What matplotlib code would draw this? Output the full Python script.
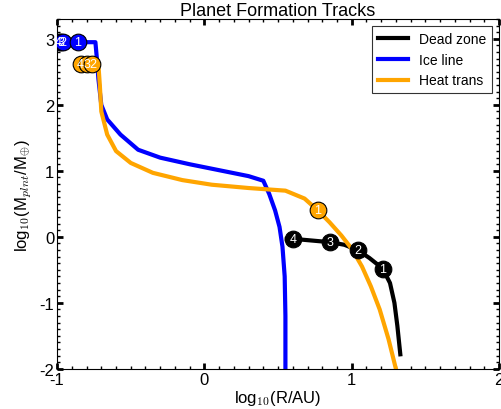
import matplotlib
matplotlib.use("Agg")
import matplotlib.pyplot as plt
from matplotlib.ticker import MultipleLocator

plt.rcParams['font.family'] = ['Liberation Sans', 'DejaVu Sans']
plt.rcParams['mathtext.fontset'] = 'cm'
plt.rcParams['axes.unicode_minus'] = False

# log10(R/AU), log10(M/Mearth) along each track
ice_x = [-1.0, -0.74, -0.73, -0.72, -0.70, -0.66, -0.57, -0.45, -0.30, -0.10, 0.10, 0.30, 0.40, 0.44, 0.48, 0.51, 0.53, 0.545, 0.55, 0.55]
ice_y = [2.95, 2.95, 2.70, 2.40, 2.00, 1.78, 1.55, 1.32, 1.20, 1.10, 1.01, 0.92, 0.85, 0.65, 0.40, 0.15, -0.15, -0.60, -1.20, -2.0]

heat_x = [-0.84, -0.76, -0.72, -0.71, -0.70, -0.66, -0.60, -0.50, -0.35, -0.15, 0.05, 0.30, 0.55, 0.68, 0.77, 0.85, 0.93, 1.00, 1.07, 1.13, 1.19, 1.25, 1.30]
heat_y = [2.62, 2.62, 2.62, 2.30, 1.90, 1.55, 1.30, 1.12, 0.97, 0.86, 0.79, 0.74, 0.70, 0.58, 0.40, 0.22, 0.02, -0.18, -0.45, -0.75, -1.10, -1.55, -2.0]

dead_x = [0.56, 0.60, 0.70, 0.85, 0.95, 1.04, 1.12, 1.21, 1.26, 1.29, 1.31, 1.33]
dead_y = [-0.03, -0.03, -0.05, -0.08, -0.12, -0.20, -0.32, -0.48, -0.70, -1.00, -1.35, -1.78]

# numbered planet positions (labels 1..4)
ice_px = [-0.86, -0.96, -0.975, -0.99]
ice_py = [2.95, 2.95, 2.95, 2.95]
heat_px = [0.77, -0.76, -0.80, -0.84]
heat_py = [0.40, 2.62, 2.62, 2.62]
dead_px = [1.21, 1.04, 0.85, 0.60]
dead_py = [-0.48, -0.20, -0.08, -0.03]
labels = ['1', '2', '3', '4']

fig = plt.figure(figsize=(5.01, 4.10), dpi=100)
ax = fig.add_axes([0.114, 0.098, 0.882, 0.853])

ax.plot(dead_x, dead_y, color='black', lw=3, label='Dead zone', zorder=2)
ax.plot(ice_x, ice_y, color='blue', lw=3, label='Ice line', zorder=2)
ax.plot(heat_x, heat_y, color='orange', lw=3, label='Heat trans', zorder=2)

for px, py, col in [(ice_px, ice_py, 'blue'), (heat_px, heat_py, 'orange'), (dead_px, dead_py, 'black')]:
    for i in range(3, -1, -1):
        ax.plot(px[i], py[i], 'o', ms=12, mfc=col, mec='black', mew=0.8, zorder=3)
        ax.text(px[i], py[i], labels[i], color='white', ha='center', va='center', fontsize=9, zorder=4)

ax.set_xlim(-1, 2)
ax.set_ylim(-2, 3.3)
ax.set_xticks([-1, 0, 1, 2])
ax.set_yticks([-2, -1, 0, 1, 2, 3])
ax.xaxis.set_minor_locator(MultipleLocator(0.1))
ax.yaxis.set_minor_locator(MultipleLocator(0.1))
ax.tick_params(which='both', direction='in', top=True, right=True, labelsize=12)
ax.tick_params(which='major', length=4, width=2, pad=2)
ax.tick_params(which='minor', length=2, width=1)

ax.set_xlabel(r'log$_{10}$(R/AU)', fontsize=12, labelpad=1)
ax.set_ylabel(r'log$_{10}$(M$_{plnt}$/M$_{\oplus}$)', fontsize=12)
ax.set_title('Planet Formation Tracks', fontsize=13, pad=3)

leg = ax.legend(loc='upper right', fontsize=10, fancybox=False, edgecolor='black', handlelength=2.2)
leg.get_frame().set_linewidth(0.8)

plt.savefig('out.png', dpi=100)
plt.close()
